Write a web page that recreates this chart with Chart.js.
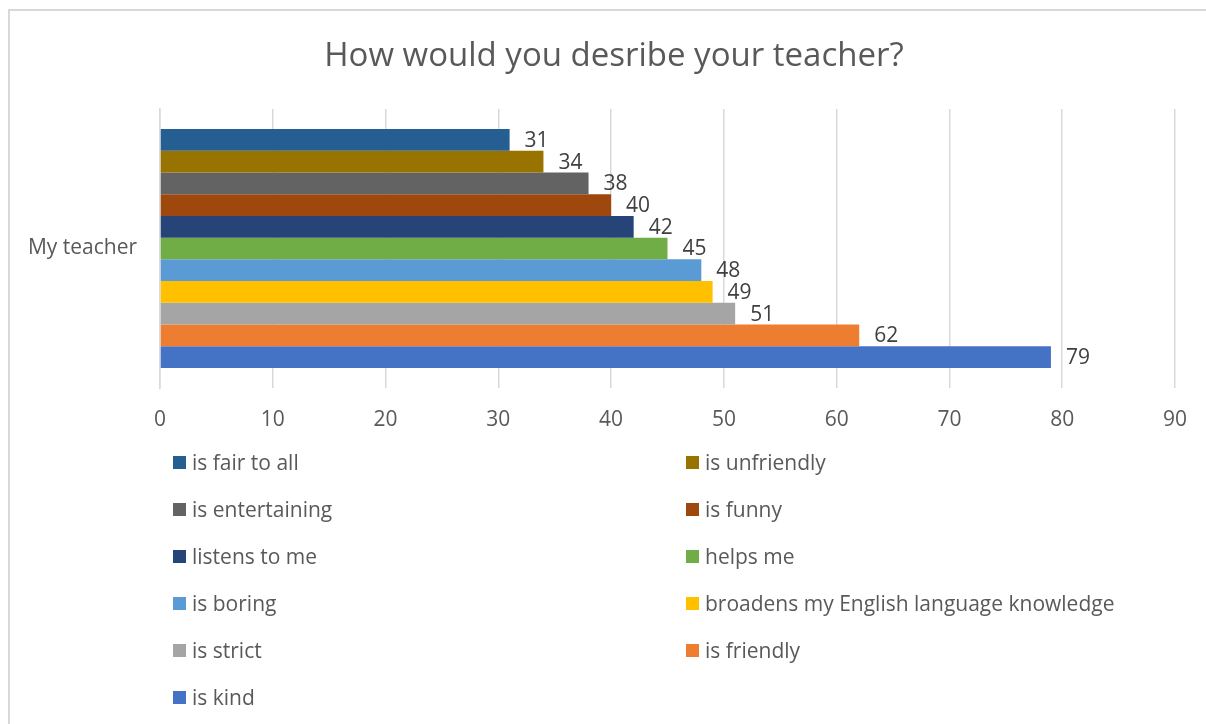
<!DOCTYPE html>
<html>
<head>
<meta charset="utf-8">
<script src="https://cdn.jsdelivr.net/npm/chart.js@4/dist/chart.umd.min.js"></script>
<style>
  html, body { margin: 0; padding: 0; background: #fff; overflow: hidden; }
  #frame { position: absolute; left: 8px; top: 9px; width: 1300px; height: 900px; border: 2px solid #d9d9d9; }
  #wrap { position: absolute; left: 0; top: 0; width: 1206px; height: 724px; }
  #legend { position: absolute; left: 0; top: 0; width: 1206px; height: 724px; pointer-events: none;
    font-family: "Open Sans", sans-serif; font-size: 21px; color: #595959; }
  .item { position: absolute; height: 24px; line-height: 24px; white-space: nowrap; }
  .item i { display: inline-block; width: 13px; height: 13px; vertical-align: middle; margin-right: 6px; position: relative; top: -2px; }
</style>
</head>
<body>
<div id="frame"></div>
<div id="wrap"><canvas id="chart" width="1206" height="724"></canvas></div>
<div id="legend"></div>
<script>
const categories = ["My teacher"];
const seriesNames = [
  "is fair to all", "is unfriendly", "is entertaining", "is funny", "listens to me",
  "helps me", "is boring", "broadens my English language knowledge", "is strict",
  "is friendly", "is kind"
];
const seriesValues = [31, 34, 38, 40, 42, 45, 48, 49, 51, 62, 79];
const seriesColors = [
  "#255E91", "#997300", "#636363", "#9E480E", "#264478",
  "#70AD47", "#5B9BD5", "#FFC000", "#A5A5A5", "#ED7D31", "#4472C4"
];
const xTicks = [0, 10, 20, 30, 40, 50, 60, 70, 80, 90];
const chartTitle = "How would you desribe your teacher?";

const FONT = "'Open Sans', sans-serif";

// value labels to the right of each bar
const barLabels = {
  id: "barLabels",
  afterDatasetsDraw(chart) {
    const ctx = chart.ctx;
    ctx.save();
    ctx.font = "21px " + FONT;
    ctx.fillStyle = "#404040";
    ctx.textAlign = "left";
    ctx.textBaseline = "middle";
    chart.data.datasets.forEach((ds, i) => {
      const bar = chart.getDatasetMeta(i).data[0];
      ctx.fillText(ds.data[0], bar.x + 15, bar.y + 1);
    });
    ctx.restore();
  },
};

// title centred over the whole frame, not only the chart box
const frameTitle = {
  id: "frameTitle",
  afterDraw(chart) {
    const ctx = chart.ctx;
    ctx.save();
    ctx.font = "33px " + FONT;
    ctx.fillStyle = "#595959";
    ctx.textAlign = "center";
    ctx.textBaseline = "middle";
    ctx.fillText(chartTitle, 614, 57);
    ctx.restore();
  },
};

const chart = new Chart(document.getElementById("chart"), {
  type: "bar",
  data: {
    labels: categories,
    datasets: seriesNames.map((name, i) => ({
      label: name,
      data: [seriesValues[i]],
      backgroundColor: seriesColors[i],
      borderWidth: 0,
      barPercentage: 1,
      categoryPercentage: 0.857,
    })),
  },
  options: {
    indexAxis: "y",
    responsive: false,
    animation: false,
    layout: { padding: { left: 0, right: 31, top: 109, bottom: 0 } },
    scales: {
      x: {
        min: 0,
        max: 90,
        afterBuildTicks(scale) { scale.ticks = xTicks.map((v) => ({ value: v })); },
        afterFit(scale) { scale.height = 336; },
        ticks: { color: "#595959", font: { family: FONT, size: 21 }, padding: 19 },
        grid: { color: "#d9d9d9", lineWidth: 1.5, drawTicks: false },
        border: { display: false },
      },
      y: {
        afterFit(scale) { scale.width = 160; },
        ticks: { color: "#595959", font: { family: FONT, size: 21 }, padding: 23 },
        grid: { display: false, drawTicks: false },
        border: { display: true, color: "#d9d9d9", width: 1.5 },
      },
    },
    plugins: {
      legend: { display: false },
      tooltip: { enabled: false },
      title: { display: false },
    },
  },
  plugins: [barLabels, frameTitle],
});

// two-column legend below the chart
const legend = document.getElementById("legend");
seriesNames.forEach((name, i) => {
  const el = document.createElement("div");
  el.className = "item";
  el.style.left = (i % 2 === 0 ? 173 : 686) + "px";
  el.style.top = (462 + 47 * Math.floor(i / 2) - 12) + "px";
  el.innerHTML = `<i style="background:${seriesColors[i]}"></i>${name}`;
  legend.appendChild(el);
});
</script>
</body>
</html>
